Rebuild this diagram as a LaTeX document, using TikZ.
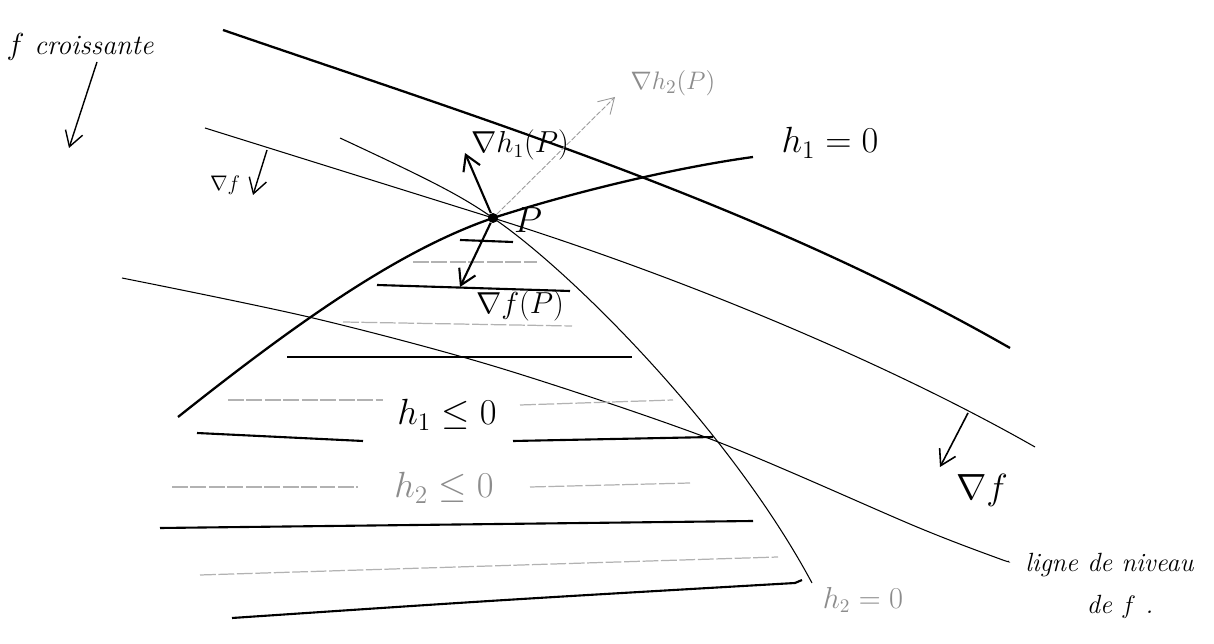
\documentclass[tikz,border=0pt]{standalone}
\usepackage{amsmath}
\usetikzlibrary{arrows.meta}

\begin{document}
\begin{tikzpicture}[x=0.02cm,y=-0.02cm,
  levelthick/.style={line width=1.3pt},
  levelthin/.style={line width=0.6pt},
  hatch/.style={line width=1.2pt},
  hatchfaint/.style={line width=0.7pt,black!30,dash pattern=on 9pt off 1.5pt},
  grad/.style={line width=1.2pt,-{Straight Barb[length=3mm,width=3.6mm]}},
  gradfaint/.style={line width=0.5pt,black!40,dash pattern=on 3pt off 1pt,-{Straight Barb[length=3mm,width=3.6mm]}},
  lbl/.style={inner sep=0pt},
  lblfaint/.style={inner sep=0pt,text=black!45}]
\useasboundingbox (0,0) rectangle (1214,644);
% level lines of f
\draw[levelthick] (223,30) .. controls (485,120) and (760,205) .. (1010,348);
\draw[levelthin] (205,128) -- (493,218) .. controls (700,283) and (900,370) .. (1035,447);
\draw[levelthin] plot[smooth] coordinates {(122,278) (313,318) (500,368) (713,440) (917,527) (1000,559) (1008,561)};
% constraints
\draw[levelthick] (178,417) .. controls (300,320) and (400,250) .. (493,218) .. controls (580,190) and (680,167) .. (753,157);
\draw[levelthin] (340,138) .. controls (430,180) and (460,195) .. (493,218) .. controls (570,270) and (730,430) .. (812,583);
% hatching of the feasible set
\draw[hatch] (460,240) -- (513,242);
\draw[hatchfaint] (413,262) -- (537,262);
\draw[hatch] (377,285) -- (570,291);
\draw[hatchfaint] (343,322) -- (572,326);
\draw[hatch] (287,357) -- (632,357);
\draw[hatchfaint] (228,400) -- (383,400);
\draw[hatchfaint] (520,405) -- (673,400);
\draw[hatch] (197,433) -- (363,441);
\draw[hatch] (513,441) -- (713,437);
\draw[hatchfaint] (172,487) -- (358,487);
\draw[hatchfaint] (530,487) -- (690,483);
\draw[hatch] (160,528) -- (753,521);
\draw[hatchfaint] (200,575) -- (778,557);
\draw[hatch] (232,618) .. controls (500,600) .. (795,583) -- (802,580);
% point P and gradients
\node[circle,fill,inner sep=0pt,minimum size=0.2cm] (P) at (493,218) {};
\coordinate (gradhonetip) at (465,153);
\coordinate (gradftip) at (460,287);
\coordinate (gradhtwotip) at (615,97);
\draw[grad] (P) -- (gradhonetip);
\draw[grad] (P) -- (gradftip);
\draw[gradfaint] (P) -- (gradhtwotip);
% labels
\node[lbl,font=\fontsize{22}{26}\selectfont] (lblhonezero) at (830,143) {$h_1=0$};
\node[lbl,font=\fontsize{16}{19}\selectfont] (lblgradhone) at (520,145) {$\nabla h_1(P)$};
\node[lblfaint,font=\fontsize{15}{18}\selectfont] (lblgradhtwo) at (673,83) {$\nabla h_2(P)$};
\node[lbl,font=\fontsize{20}{24}\selectfont] (lblP) at (528,220) {$P$};
\node[lbl,font=\fontsize{16}{19}\selectfont] (lblgradfP) at (520,306) {$\nabla f(P)$};
\node[lbl,font=\fontsize{22}{26}\selectfont] (lblhoneleq) at (447,415) {$h_1\leq 0$};
\node[lblfaint,font=\fontsize{20}{24}\selectfont] (lblhtwoleq) at (444,488) {$h_2\leq 0$};
\node[lblfaint,font=\fontsize{16}{19}\selectfont] (lblhtwozero) at (863,600) {$h_2=0$};
\node[lbl,font=\fontsize{16}{19}\selectfont\itshape] (lblfcrois) at (80,47) {$f$ croissante};
\node[lbl,font=\fontsize{13}{16}\selectfont] (lblgradfL) at (225,185) {$\nabla f$};
\node[lbl,font=\fontsize{20}{24}\selectfont] (lblgradfR) at (982,490) {$\nabla f$};
\node[lbl,anchor=west,font=\fontsize{15}{18}\selectfont\itshape] (lblligne) at (1025,565) {ligne de niveau};
\node[lbl,font=\fontsize{15}{18}\selectfont\itshape] (lbldef) at (1120,607) {de $f$ .};
% descent directions
\coordinate (fcroisA) at (97,62);
\coordinate (fcroisB) at (69,148);
\draw[grad,line width=0.8pt] (fcroisA) -- (fcroisB);
\coordinate (gradfLA) at (267,150);
\coordinate (gradfLB) at (253,195);
\draw[grad,line width=0.8pt] (gradfLA) -- (gradfLB);
\coordinate (gradfRA) at (968,413);
\coordinate (gradfRB) at (940,467);
\draw[grad,line width=0.9pt] (gradfRA) -- (gradfRB);
\end{tikzpicture}
\end{document}
